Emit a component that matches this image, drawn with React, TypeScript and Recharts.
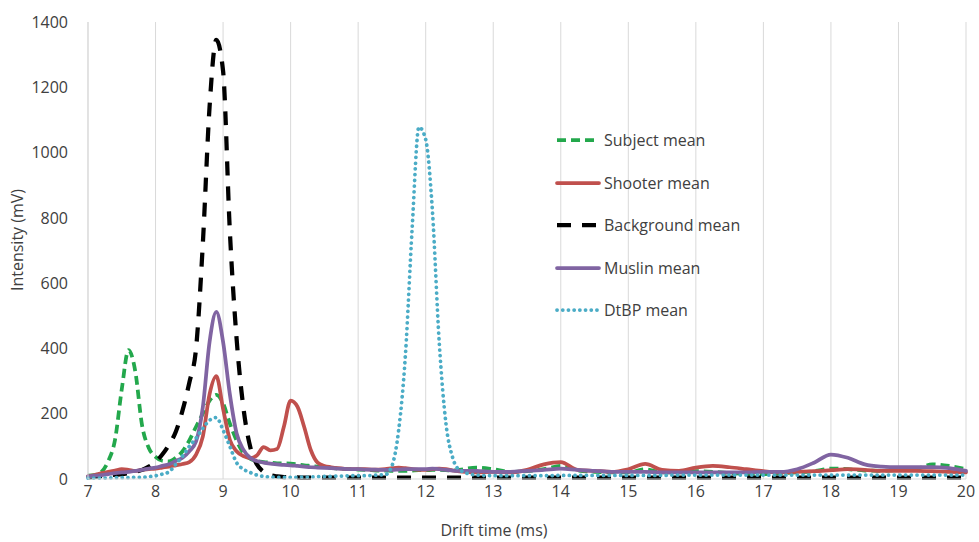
import React from 'react';
import {
  LineChart,
  Line,
  XAxis,
  YAxis,
  CartesianGrid,
} from 'recharts';

// drift time grid (ms): 0.1 steps up to 12.5, then 0.25 steps
const driftTime = [
  7.0, 7.1, 7.2, 7.3, 7.4, 7.5, 7.6, 7.7, 7.8, 7.9,
  8.0, 8.1, 8.2, 8.3, 8.4, 8.5, 8.6, 8.7, 8.8, 8.9,
  9.0, 9.1, 9.2, 9.3, 9.4, 9.5, 9.6, 9.7, 9.8, 9.9,
  10.0, 10.1, 10.2, 10.3, 10.4, 10.5, 10.6, 10.7, 10.8, 10.9,
  11.0, 11.1, 11.2, 11.3, 11.4, 11.5, 11.6, 11.7, 11.8, 11.9,
  12.0, 12.1, 12.2, 12.3, 12.4, 12.5,
  12.75, 13, 13.25, 13.5, 13.75, 14, 14.25, 14.5, 14.75, 15,
  15.25, 15.5, 15.75, 16, 16.25, 16.5, 16.75, 17, 17.25, 17.5,
  17.75, 18, 18.25, 18.5, 18.75, 19, 19.25, 19.5, 19.75, 20,
];

const subjectMean = [
  10, 12, 22, 55, 120, 275, 395, 330, 165, 95,
  68, 56, 54, 65, 85, 118, 160, 200, 240, 258,
  232, 170, 118, 80, 62, 55, 52, 50, 48, 48,
  47, 45, 42, 40, 38, 36, 34, 32, 31, 30,
  29, 28, 27, 26, 26, 25, 25, 25, 26, 27,
  27, 28, 28, 27, 26, 28,
  35, 30, 22, 24, 30, 40, 26, 22, 20, 20,
  30, 20, 20, 24, 22, 18, 16, 15, 18, 20,
  24, 32, 30, 26, 25, 28, 30, 45, 40, 30,
];

const shooterMean = [
  8, 12, 18, 22, 26, 30, 28, 25, 28, 30,
  32, 35, 38, 42, 46, 52, 75, 130, 260, 315,
  215, 120, 85, 70, 64, 72, 98, 88, 92, 160,
  240, 222, 160, 88, 50, 40, 36, 33, 31, 30,
  30, 30, 29, 29, 30, 33, 35, 33, 30, 28,
  28, 30, 32, 30, 26, 23,
  20, 22, 20, 28, 45, 52, 28, 25, 22, 30,
  46, 28, 25, 35, 40, 36, 30, 24, 20, 22,
  24, 27, 30, 28, 25, 25, 25, 24, 22, 20,
];

const backgroundMean = [
  5, 7, 9, 11, 13, 15, 18, 22, 28, 38,
  52, 75, 105, 145, 210, 295, 400, 720, 1140, 1345,
  1250, 760, 430, 220, 100, 45, 22, 12, 8, 6,
  5, 5, 4, 4, 4, 4, 4, 4, 4, 4,
  4, 4, 4, 4, 4, 4, 4, 4, 4, 4,
  4, 4, 4, 4, 4, 4,
  4, 4, 4, 4, 4, 4, 4, 4, 4, 4,
  4, 4, 4, 4, 4, 4, 4, 4, 4, 4,
  4, 4, 4, 4, 4, 4, 4, 4, 4, 4,
];

const muslinMean = [
  8, 10, 12, 15, 18, 20, 22, 25, 28, 32,
  35, 40, 45, 55, 65, 85, 115, 220, 420, 512,
  420, 260, 140, 90, 65, 55, 50, 47, 45, 43,
  42, 40, 38, 36, 35, 34, 33, 32, 31, 30,
  30, 29, 29, 28, 28, 28, 29, 30, 30, 30,
  30, 32, 30, 28, 26, 25,
  25, 22, 22, 25, 28, 32, 28, 25, 22, 22,
  22, 20, 20, 20, 20, 20, 20, 22, 22, 30,
  50, 75, 65, 45, 38, 36, 36, 36, 33, 25,
];

const dtbpMean = [
  3, 3, 3, 3, 4, 4, 4, 5, 5, 7,
  10, 15, 22, 45, 70, 100, 125, 155, 180, 188,
  150, 100, 50, 30, 20, 12, 8, 6, 5, 5,
  5, 5, 6, 6, 7, 8, 8, 9, 9, 10,
  10, 10, 11, 12, 13, 40, 150, 380, 770, 1078,
  1040, 820, 420, 170, 65, 28,
  12, 10, 10, 10, 10, 11, 11, 11, 11, 11,
  11, 11, 12, 12, 12, 12, 12, 12, 12, 12,
  12, 12, 12, 12, 12, 12, 12, 12, 12, 12,
];

const xTicks = [7, 8, 9, 10, 11, 12, 13, 14, 15, 16, 17, 18, 19, 20];
const yTicks = [0, 200, 400, 600, 800, 1000, 1200, 1400];

const seriesNames = ['Subject mean', 'Shooter mean', 'Background mean', 'Muslin mean', 'DtBP mean'];

const data = driftTime.map((t, i) => ({
  t,
  subject: subjectMean[i],
  shooter: shooterMean[i],
  background: backgroundMean[i],
  muslin: muslinMean[i],
  dtbp: dtbpMean[i],
}));

const FONT = '"Open Sans", sans-serif';
const TEXT = '#404040';

const styles = [
  { key: 'subject', color: '#23a84c', width: 3.75, dash: '9 5', cap: 'butt' },
  { key: 'shooter', color: '#c0504d', width: 3.75, dash: undefined, cap: 'round' },
  { key: 'background', color: '#000000', width: 4.25, dash: '14 11', cap: 'butt' },
  { key: 'muslin', color: '#8064a2', width: 3.75, dash: undefined, cap: 'round' },
  { key: 'dtbp', color: '#4bacc6', width: 3.75, dash: '0.1 5.6', cap: 'round' },
];

function LegendBox() {
  return (
    <div
      style={{
        position: 'absolute',
        left: 555,
        top: 119,
        fontFamily: FONT,
        fontSize: 16,
        color: TEXT,
      }}
    >
      {styles.map((s, i) => (
        <div key={s.key} style={{ display: 'flex', alignItems: 'center', height: 42.5 }}>
          <svg width={46} height={10}>
            <line
              x1={2}
              y1={5}
              x2={44}
              y2={5}
              stroke={s.color}
              strokeWidth={s.width}
              strokeDasharray={s.dash}
              strokeLinecap={s.cap as any}
            />
          </svg>
          <span style={{ marginLeft: 3 }}>{seriesNames[i]}</span>
        </div>
      ))}
    </div>
  );
}

export default function App() {
  return (
    <div style={{ position: 'absolute', left: 0, top: 0, width: 979, height: 542, background: '#fff' }}>
      <LineChart
        width={979}
        height={542}
        data={data}
        margin={{ top: 22, right: 13, left: 0, bottom: 0 }}
      >
        <CartesianGrid horizontal={false} stroke="#d9d9d9" />
        <XAxis
          dataKey="t"
          type="number"
          domain={[7, 20]}
          ticks={xTicks}
          height={63}
          tickLine={false}
          tickSize={0}
          tickMargin={7}
          axisLine={{ stroke: '#d9d9d9' }}
          tick={{ fill: TEXT, fontSize: 16, fontFamily: FONT }}
          label={() => (
            <text x={494} y={536} textAnchor="middle" fill={TEXT} fontSize={16} fontFamily={FONT}>
              Drift time (ms)
            </text>
          )}
        />
        <YAxis
          type="number"
          domain={[0, 1400]}
          ticks={yTicks}
          width={88}
          tickLine={false}
          tickSize={0}
          tickMargin={20}
          axisLine={{ stroke: '#d9d9d9' }}
          tick={{ fill: TEXT, fontSize: 16, fontFamily: FONT }}
          label={() => (
            <text
              x={23}
              y={240}
              transform="rotate(-90 23 240)"
              textAnchor="middle"
              fill={TEXT}
              fontSize={16}
              fontFamily={FONT}
            >
              Intensity (mV)
            </text>
          )}
        />
        {styles.map((s, i) => (
          <Line
            key={s.key}
            type="monotone"
            dataKey={s.key}
            name={seriesNames[i]}
            stroke={s.color}
            strokeWidth={s.width}
            strokeDasharray={s.dash}
            strokeLinecap={s.cap as any}
            dot={false}
            activeDot={false}
            isAnimationActive={false}
          />
        ))}
      </LineChart>
      <LegendBox />
    </div>
  );
}
